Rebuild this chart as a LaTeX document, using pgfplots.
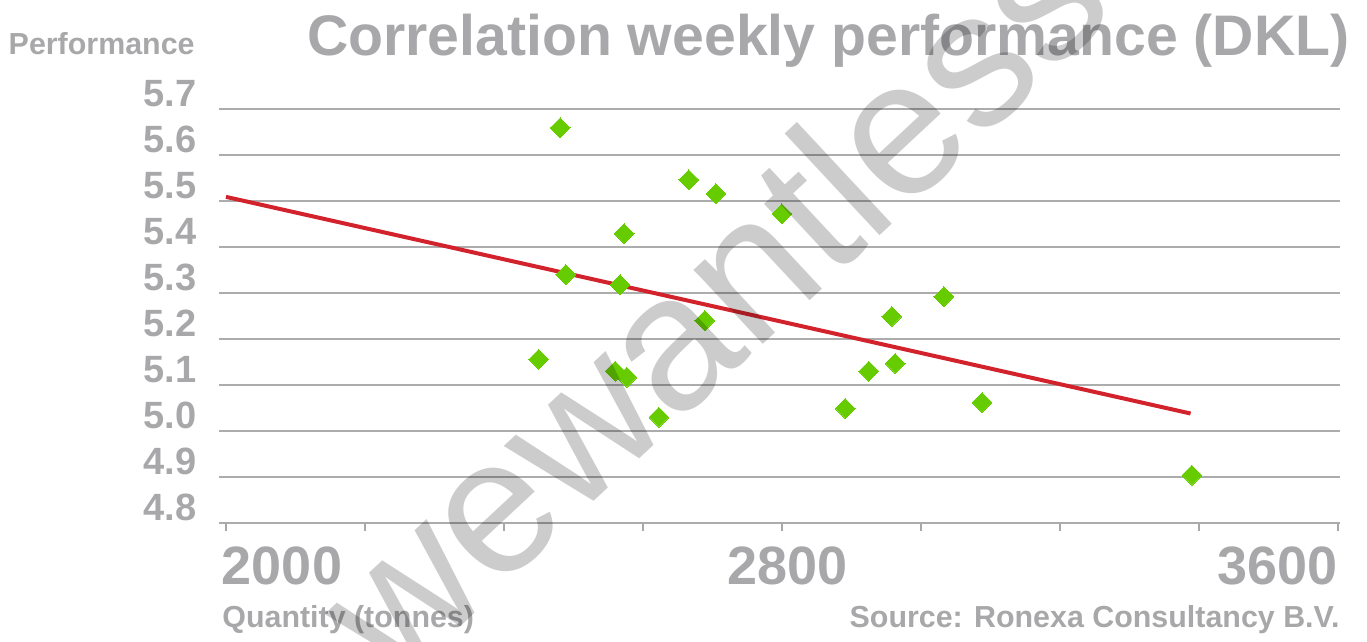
\documentclass[border=0pt]{standalone}
\usepackage{pgfplots}
\pgfplotsset{compat=1.18}
\usepackage{fontspec}
\setmainfont{Liberation Sans}
\definecolor{txtgray}{RGB}{168,168,170}
\definecolor{gridgray}{RGB}{172,172,172}
\definecolor{ptgreen}{RGB}{102,204,0}
\definecolor{trendred}{RGB}{210,35,45}
\pgfplotstableread{
x y
2481 5.659
2489 5.340
2450 5.156
2560 5.130
2577 5.117
2567 5.318
2573 5.429
2623 5.030
2666 5.546
2705 5.516
2689 5.240
2800 5.472
2891 5.049
2925 5.130
2958 5.249
2963 5.147
3033 5.292
3088 5.062
3390 4.904
}\pts
\begin{document}
\begin{tikzpicture}[x=1pt,y=1pt]
\useasboundingbox (0,0) rectangle (683.5,321);
\begin{axis}[
  at={(109.5pt,59.5pt)}, anchor=south west,
  scale only axis, width=560.5pt, height=207pt,
  xmin=1990, xmax=3603, ymin=4.8, ymax=5.7,
  axis line style={draw=none},
  ytick={4.8,4.9,5.0,5.1,5.2,5.3,5.4,5.5,5.6,5.7},
  yticklabels={4.8,4.9,5.0,5.1,5.2,5.3,5.4,5.5,5.6,5.7},
  ymajorgrids, grid style={gridgray, line width=0.6pt},
  ytick style={draw=none},
  xtick={2000,2200,...,3600},
  xticklabels={\makebox[0pt][l]{\hspace*{-2pt}2000},,,,\hspace*{6pt}2800,,,,\makebox[0pt][r]{3600}},
  xtick pos=bottom, tick align=outside, major tick length=4pt,
  xtick style={txtgray, line width=1pt},
  yticklabel style={anchor=base east, inner sep=0pt, xshift=-7pt, yshift=1pt, font=\fontsize{19}{19}\selectfont\bfseries, text=txtgray},
  xticklabel style={anchor=base, inner sep=0pt, yshift=-27pt, font=\fontsize{27}{27}\selectfont\bfseries, text=txtgray},
  title={Correlation weekly performance (DKL)},
  every axis title/.style={at={(axis description cs:1,1)}, anchor=base east, inner sep=0pt, xshift=5pt, yshift=26.5pt, font=\fontsize{28.6}{30}\selectfont\bfseries, text=txtgray},
  xlabel={Quantity (tonnes)},
  every axis x label/.style={at={(axis description cs:0,0)}, anchor=base west, inner sep=0pt, xshift=1.5pt, yshift=-52.5pt, font=\fontsize{15.2}{16}\selectfont\bfseries, text=txtgray},
  ylabel={Performance},
  every axis y label/.style={at={(axis description cs:0,1)}, anchor=base east, inner sep=0pt, xshift=-12pt, yshift=27pt, font=\fontsize{15.2}{16}\selectfont\bfseries, text=txtgray},
]
\addplot[trendred, line width=2pt] coordinates {(2000,5.509) (3388,5.038)};
\addplot[only marks, mark=square*, mark size=3.5pt, mark options={rotate=45, fill=ptgreen, draw=ptgreen, line width=0pt}] table[x=x,y=y] {\pts};
\end{axis}
\node[anchor=base east, inner sep=0pt, font=\fontsize{15.2}{16}\selectfont\bfseries, text=txtgray] at (670,7) {Source: Ronexa Consultancy B.V.};
\node[rotate=43, anchor=base, inner sep=0pt, text=black, text opacity=0.2, font=\fontsize{96}{96}\selectfont] at (378.5,146.2) {wewantless};
\end{tikzpicture}
\end{document}
